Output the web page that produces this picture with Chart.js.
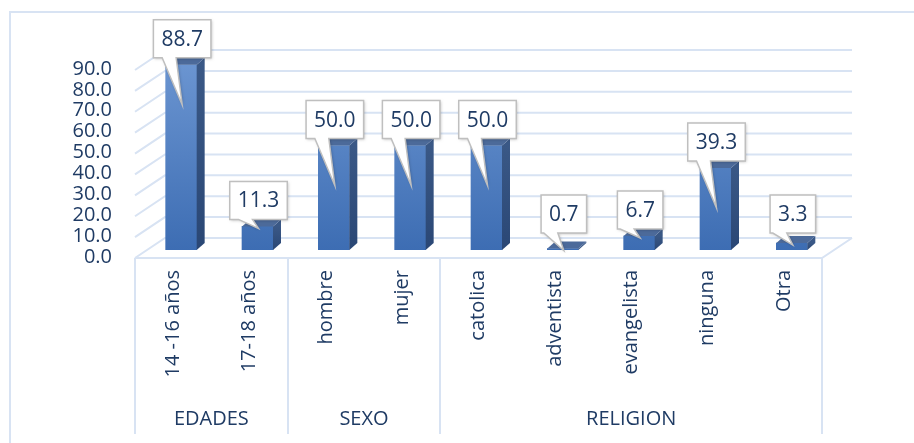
<!DOCTYPE html>
<html>
<head>
<meta charset="utf-8">
<script src="https://cdn.jsdelivr.net/npm/chart.js@4.4.1/dist/chart.umd.min.js"></script>
<style>
  html, body { margin: 0; padding: 0; background: #fff; }
  #wrap { width: 914px; height: 443px; }
</style>
</head>
<body>
<div id="wrap"><canvas id="barChart" width="914" height="443"></canvas></div>
<script>
// data
const categories = ["14 -16 años", "17-18 años", "hombre", "mujer", "catolica", "adventista", "evangelista", "ninguna", "Otra"];
const values = [88.7, 11.3, 50.0, 50.0, 50.0, 0.7, 6.7, 39.3, 3.3];
const groups = ["EDADES", "SEXO", "RELIGION"];
const groupSizes = [2, 2, 5];
const yMax = 90;
const yStep = 10;

const textColor = "#1F3B64";
const lineColor = "#D8E3F3";
const font = "Open Sans";

// depth offsets of the fake 3D look
const barDx = 8, barDy = -7;
const frontDx = -8, frontDy = 8;
const backDx = 22, backDy = -12;

const threeD = {
  id: "threeD",
  beforeDatasetsDraw(chart) {
    const c = chart.ctx;
    const y = chart.scales.y;
    const a = chart.chartArea;
    const catW = (a.right - a.left) / categories.length;
    c.save();
    c.strokeStyle = lineColor;
    c.lineWidth = 2;
    // outer border (top + left)
    c.beginPath();
    c.moveTo(10, 443); c.lineTo(10, 12); c.lineTo(914, 12);
    c.stroke();
    // back wall grid with diagonals on the side wall
    y.ticks.forEach(t => {
      const py = y.getPixelForValue(t.value);
      c.beginPath();
      c.moveTo(a.left + frontDx, py + frontDy);
      c.lineTo(a.left + backDx, py + backDy);
      c.lineTo(a.right + backDx, py + backDy);
      c.stroke();
    });
    // floor
    const fy = y.getPixelForValue(0) + frontDy;
    c.beginPath();
    c.moveTo(a.left + frontDx, fy);
    c.lineTo(a.right + frontDx, fy);
    c.lineTo(a.right + backDx, fy - frontDy + backDy);
    c.stroke();
    // group separators
    let idx = 0;
    const edges = [0];
    groupSizes.forEach(n => { idx += n; edges.push(idx); });
    edges.forEach(e => {
      const px = Math.round(a.left + frontDx + e * catW);
      c.beginPath();
      c.moveTo(px, fy); c.lineTo(px, 434);
      c.stroke();
    });
    // group labels
    c.fillStyle = textColor;
    c.font = "20px '" + font + "'";
    c.textAlign = "center";
    c.textBaseline = "middle";
    groups.forEach((g, i) => {
      const mid = (edges[i] + edges[i + 1]) / 2;
      c.fillText(g, a.left + frontDx + mid * catW, 419);
    });
    c.restore();
  },
  afterDatasetsDraw(chart) {
    const c = chart.ctx;
    const meta = chart.getDatasetMeta(0);
    c.save();
    meta.data.forEach((bar) => {
      const p = bar.getProps(["x", "y", "base", "width"], true);
      const l = p.x - p.width / 2, r = p.x + p.width / 2;
      // side face
      const sg = c.createLinearGradient(0, p.y, 0, p.base);
      sg.addColorStop(0, "#3a5886");
      sg.addColorStop(1, "#2a4775");
      c.fillStyle = sg;
      c.beginPath();
      c.moveTo(r, p.y); c.lineTo(r + barDx, p.y + barDy);
      c.lineTo(r + barDx, p.base + barDy); c.lineTo(r, p.base);
      c.closePath(); c.fill();
      // top face
      c.fillStyle = "#4c6a9a";
      c.beginPath();
      c.moveTo(l, p.y); c.lineTo(l + barDx, p.y + barDy);
      c.lineTo(r + barDx, p.y + barDy); c.lineTo(r, p.y);
      c.closePath(); c.fill();
    });
    // callout labels
    c.font = "21px '" + font + "'";
    c.textAlign = "center";
    c.textBaseline = "middle";
    meta.data.forEach((bar, i) => {
      const p = bar.getProps(["x", "y", "base"], true);
      const txt = values[i].toFixed(1);
      const w = c.measureText(txt).width + 16, h = 38;
      const cx = p.x + 1;
      const bottom = Math.min(p.y - 7, 233);
      const top = bottom - h;
      const tipY = p.base - p.y > 60 ? p.y + 40 : p.y + 2;
      c.save();
      c.shadowColor = "rgba(0,0,0,0.25)";
      c.shadowBlur = 3;
      c.shadowOffsetX = 1;
      c.shadowOffsetY = 1;
      c.fillStyle = "#fff";
      c.strokeStyle = "#BFBFBF";
      c.lineWidth = 1.5;
      c.beginPath();
      c.moveTo(cx - w / 2, top);
      c.lineTo(cx + w / 2, top);
      c.lineTo(cx + w / 2, bottom);
      c.lineTo(cx - 6, bottom);
      c.lineTo(cx, tipY);
      c.lineTo(cx - 20, bottom);
      c.lineTo(cx - w / 2, bottom);
      c.closePath();
      c.fill();
      c.shadowColor = "transparent";
      c.stroke();
      c.restore();
      c.fillStyle = textColor;
      c.fillText(txt, cx, (top + bottom) / 2 + 1);
    });
    c.restore();
  }
};

const barChart = new Chart(document.getElementById("barChart"), {
  type: "bar",
  data: {
    labels: categories,
    datasets: [
      {
        data: values,
        barThickness: 31,
        backgroundColor: (ctx) => {
          const a = ctx.chart.chartArea;
          if (!a) return "#4a7ac0";
          const g = ctx.chart.ctx.createLinearGradient(0, a.top, 0, a.bottom);
          g.addColorStop(0, "#6b95d1");
          g.addColorStop(1, "#3d6db3");
          return g;
        },
        borderWidth: 0,
      },
    ],
  },
  options: {
    responsive: false,
    animation: false,
    layout: { padding: { left: 0, right: 84, top: 62, bottom: 0 } },
    scales: {
      x: {
        grid: { display: false, drawTicks: false },
        border: { display: false },
        ticks: {
          color: textColor,
          font: { family: font, size: 20 },
          minRotation: 90,
          maxRotation: 90,
          autoSkip: false,
          padding: 20,
          labelOffset: frontDx,
        },
        afterFit: (s) => { s.height = 193; },
      },
      y: {
        min: 0,
        max: yMax,
        grid: { display: false, drawTicks: false },
        border: { display: false },
        ticks: {
          stepSize: yStep,
          autoSkip: false,
          color: textColor,
          font: { family: font, size: 20 },
          padding: 31,
          labelOffset: 7,
          callback: (v) => v.toFixed(1),
        },
        afterFit: (s) => { s.width = 143; },
      },
    },
    plugins: {
      legend: { display: false },
      tooltip: { enabled: false },
    },
  },
  plugins: [threeD],
});
</script>
</body>
</html>
